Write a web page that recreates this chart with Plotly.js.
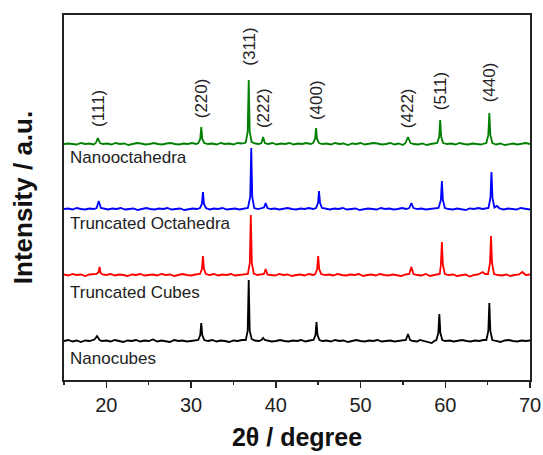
<!DOCTYPE html>
<html>
<head>
<meta charset="utf-8">
<script src="https://cdn.plot.ly/plotly-3.0.1.min.js"></script>
<style>html,body{margin:0;padding:0;background:#fff;}#chart{width:543px;height:455px;}</style>
</head>
<body>
<div id="chart"></div>
<script>
// ---- Data (2θ in degrees, intensity in arbitrary units above each pattern's baseline) ----
const seriesNames = ['Nanocubes', 'Truncated Cubes', 'Truncated Octahedra', 'Nanooctahedra'];
const seriesColors = ['#000000', '#ff0000', '#0000ff', '#008000'];

const nanocubesTheta = [15,15.5,16,16.5,17,17.5,18,18.3,18.6,18.9,19.2,19.5,20,20.5,21,21.5,22,22.5,23,23.5,24,24.5,25,25.5,26,26.5,27,27.5,28,28.5,29,29.5,30,30.5,30.85,31.08,31.2,31.32,31.55,32,32.5,33,33.5,34,34.5,35,35.5,36,36.45,36.68,36.8,36.92,37.15,37.5,38,38.3,38.5,38.7,39,39.5,40,40.5,41,41.5,42,42.5,43,43.5,44,44.45,44.68,44.8,44.92,45.15,45.5,46,46.5,47,47.5,48,48.5,49,49.5,50,50.5,51,51.5,52,52.5,53,53.5,54,54.5,55,55.35,55.6,55.85,56.2,56.7,57,57.5,58,58.4,58.7,58.95,59.18,59.3,59.42,59.65,60,60.5,61,61.5,62,62.5,63,63.5,64,64.5,64.85,65.08,65.2,65.32,65.55,66,66.5,67,67.5,68,68.5,69,69.5,70];
const nanocubesI = [0,1,-0.5,0.5,-1,0.5,0,1,1.5,5,1,0,0.5,-0.5,1,0,-1,0.5,0,1,-0.5,0.5,0,1.5,-0.5,0.5,0,-1,1,0,0.5,-0.5,0,1,1,6,18,6,1,0,1,-0.5,0.5,0,-1,0.5,0,1,1,10,61,10,2,0.5,0,1,3,1,0.5,-0.5,0,1,0,-0.5,0.5,0,1,-0.5,0.5,1,6,19,6,1,0,0.5,-0.5,1,0,0.5,-1,0,1,0,-0.5,0.5,0,1,-0.5,0,0.5,-0.5,0,0.5,1,7,1,0,-0.5,1,0,-1,-2,0,1,8,27,8,1,0,0.5,-0.5,0,1,0,-0.5,0.5,0,1,1,10,38,10,1,0,-1,0.5,1,0,-0.5,0.5,0,0.5];

const truncCubesTheta = [15,15.5,16,16.5,17,17.5,18,18.5,18.85,19.08,19.2,19.32,19.55,20,20.5,21,21.5,22,22.5,23,23.5,24,24.5,25,25.5,26,26.5,27,27.5,28,28.5,29,29.5,30,30.5,31.05,31.28,31.4,31.52,31.75,32.2,32.7,33.2,33.7,34.2,34.7,35.2,35.7,36.2,36.7,36.93,37.05,37.17,37.4,37.8,38.2,38.6,38.8,39,39.4,39.9,40.4,40.9,41.4,41.9,42.4,42.9,43.4,43.9,44.4,44.65,44.88,45,45.12,45.35,45.8,46.3,46.8,47.3,47.8,48.3,48.8,49.3,49.8,50.3,50.8,51.3,51.8,52.3,52.8,53.3,53.8,54.3,54.8,55.3,55.75,56,56.25,56.7,57.2,57.7,58.2,58.7,59.1,59.35,59.48,59.6,59.72,59.95,60.4,60.9,61.4,61.9,62.4,62.9,63.4,63.9,64.4,64.7,65.05,65.28,65.4,65.52,65.75,66.2,66.7,67.2,67.7,68.2,68.7,69.1,69.5,70];
const truncCubesI = [0.5,-0.5,1,0,0.5,-1,0.5,1,1,3,8,2,0.5,0,1,-0.5,0.5,0,-1,0.5,0,1,-0.5,0,0.5,-0.5,1,0,0.5,-1,0,1,0,-0.5,0.5,1,6,19,6,1,0,1,-0.5,0.5,0,1,-0.5,0,1,1,12,60,12,1.5,0,0.5,1,6,0.5,0,-0.5,1,0,0.5,-1,0,0.5,-0.5,1,0,1,6,19,6,1,0,0.5,-0.5,1,0,-0.5,0.5,0,1,-1,0,0.5,-0.5,1,0,-0.5,0.5,0,-1,0.5,1,8,1,0,-0.5,1,-1,0,1,1,10,33,10,1,0,0.5,-1,0,0.5,-1.5,0,0.5,3,1,1,12,39,12,1,0,-0.5,0.5,-1,0,0.5,3,0,0.5];

const truncOctTheta = [15,15.5,16,16.5,17,17.5,18,18.5,18.85,19.1,19.35,19.7,20.2,20.7,21.2,21.7,22.2,22.7,23.2,23.7,24.2,24.7,25.2,25.7,26.2,26.7,27.2,27.7,28.2,28.7,29.2,29.7,30.2,30.7,31.05,31.28,31.4,31.52,31.75,32.2,32.7,33.2,33.7,34.2,34.7,35.2,35.7,36.2,36.7,36.98,37.1,37.22,37.45,37.9,38.3,38.6,38.8,39,39.4,39.9,40.4,40.9,41.4,41.9,42.4,42.9,43.4,43.9,44.4,44.75,44.98,45.1,45.22,45.45,45.9,46.4,46.9,47.4,47.9,48.4,48.9,49.4,49.9,50.4,50.9,51.4,51.9,52.4,52.9,53.4,53.9,54.4,54.9,55.4,55.75,56,56.25,56.7,57.2,57.7,58.2,58.7,59.2,59.48,59.6,59.72,59.95,60.4,60.9,61.4,61.9,62.4,62.9,63.4,63.9,64.4,65.1,65.33,65.45,65.57,65.8,66.1,66.4,66.9,67.4,67.9,68.4,68.9,69.4,70];
const truncOctI = [0,0.5,-0.5,1,0,-0.5,0.5,0,1,8,1,0.5,-0.5,0.5,0,1,-0.5,0,0.5,-1,0,1,0,-0.5,0.5,0,1,-0.5,0,0.5,-1,0,0.5,0,1,5,17,5,1,-0.5,0.5,0,1,-0.5,0,0.5,-0.5,0.5,1,12,61,12,1,0,0.5,1.5,6,1,0,0.5,-0.5,0,1,0,-0.5,0.5,0,1,0,1,6,18,6,1,0,-0.5,0.5,0,1,-0.5,0,0.5,-1,0,0.5,0,-0.5,1,0,0.5,-0.5,0,1,0,1,6,1,0,0.5,-0.5,0,0.5,1,9,28,9,1,0,-0.5,0.5,0,-1,0.5,0,1,0,1,11,37,11,1.5,3,0.5,-0.5,0.5,0,-0.5,1,0,-0.5];

const nanoOctTheta = [15,15.5,16,16.5,17,17.5,18,18.5,18.75,19,19.25,19.6,20.1,20.6,21.1,21.6,22.1,22.6,23.1,23.6,24.1,24.6,25.1,25.6,26.1,26.6,27.1,27.6,28.1,28.6,29.1,29.6,30.1,30.6,30.85,31.08,31.2,31.32,31.55,32,32.5,33,33.5,34,34.5,35,35.5,36,36.45,36.68,36.8,36.92,37.15,37.6,38,38.3,38.5,38.7,39.1,39.6,40.1,40.6,41.1,41.6,42.1,42.6,43.1,43.6,44.1,44.4,44.63,44.75,44.87,45.1,45.5,46,46.5,47,47.5,48,48.5,49,49.5,50,50.5,51,51.5,52,52.5,53,53.5,54,54.5,55,55.3,55.6,55.9,56.3,56.8,57.3,57.8,58.3,58.8,59.05,59.28,59.4,59.52,59.75,60.2,60.7,61.2,61.7,62.2,62.7,63.2,63.7,64.2,64.6,64.85,65.08,65.2,65.32,65.55,66,66.5,67,67.5,68,68.5,69,69.5,70];
const nanoOctI = [0,0.5,0,-0.5,1,0,0.5,-0.5,1,6,1,0,0.5,-0.5,1,0,0.5,-1,0,1,0.5,-0.5,0,1,0,-0.5,0.5,1,0,-0.5,0.5,0,1,0,1,5,17,5,1,0,0.5,-0.5,1,0,0.5,-0.5,1,0.5,1.5,12,64,12,2,0.5,0,1,7,1,0,1,-0.5,0.5,0,1,-0.5,0.5,0,1,0,1,5,16,5,1,0,0.5,-0.5,1,0,0.5,-1,0.5,0,1,-0.5,0,1,0.5,-0.5,0,1,-0.5,0.5,-1,1,7,1,0,-0.5,0.5,-1,0,0.5,1,7,24,7,1,0,0.5,-0.5,1,0,-0.5,0.5,0,-0.5,0.5,1,9,31,9,1,-0.5,0.5,-1,0,0.5,-0.5,0,1,0];

// Reflection labels and the 2θ they sit over
const hklLabels = ['(111)', '(220)', '(311)', '(222)', '(400)', '(422)', '(511)', '(440)'];
const hklTheta  = [19.0, 31.2, 36.8, 38.5, 44.75, 55.5, 59.4, 65.2];

// ---- Presentation (stacking offsets and label placement) ----
const stackOffset = [39, 105, 171, 236];
const hklLabelY = [272, 282, 333, 272, 280, 272, 289, 298];
const nameLabelY = [22, 88, 157, 223];

const thetaSets = [nanocubesTheta, truncCubesTheta, truncOctTheta, nanoOctTheta];
const intensitySets = [nanocubesI, truncCubesI, truncOctI, nanoOctI];

const FONT = 'Liberation Sans, Arial, Helvetica, sans-serif';

const traces = thetaSets.map((xs, i) => ({
  type: 'scatter',
  mode: 'lines',
  x: xs,
  y: intensitySets[i].map(v => v + stackOffset[i]),
  name: seriesNames[i],
  line: {color: seriesColors[i], width: 1.8},
  hoverinfo: 'skip'
}));

const annotations = [];
hklLabels.forEach((t, i) => {
  annotations.push({
    x: hklTheta[i], y: hklLabelY[i], xref: 'x', yref: 'y',
    text: t, showarrow: false, textangle: -90,
    font: {family: FONT, size: 17, color: '#222'},
    xanchor: 'center', yanchor: 'middle'
  });
});
seriesNames.forEach((t, i) => {
  annotations.push({
    x: 15.45, y: nameLabelY[i], xref: 'x', yref: 'y',
    text: t, showarrow: false,
    font: {family: FONT, size: 17, color: '#222'},
    xanchor: 'left', yanchor: 'middle'
  });
});

const layout = {
  width: 543, height: 455,
  margin: {l: 64, r: 13, t: 15, b: 75},
  paper_bgcolor: '#ffffff', plot_bgcolor: '#ffffff',
  showlegend: false,
  font: {family: FONT, color: '#222'},
  xaxis: {
    range: [15, 70],
    tickmode: 'linear', tick0: 0, dtick: 10,
    ticks: 'outside', ticklen: 6, tickwidth: 1.5, tickcolor: '#222',
    minor: {tickmode: 'linear', tick0: 0, dtick: 5, ticks: 'outside', ticklen: 3.5, tickwidth: 1.5, tickcolor: '#222'},
    showline: true, linewidth: 1.8, linecolor: '#222', mirror: true,
    showgrid: false, zeroline: false,
    tickfont: {family: FONT, size: 20, color: '#222'},
    title: {text: '2θ / degree', font: {family: FONT, size: 25, weight: 'bold', color: '#111'}, standoff: 14}
  },
  yaxis: {
    range: [0, 365],
    showline: true, linewidth: 1.8, linecolor: '#222', mirror: true,
    showgrid: false, zeroline: false, showticklabels: false, ticks: '',
    title: {text: 'Intensity / a.u.', font: {family: FONT, size: 26, weight: 'bold', color: '#111'}, standoff: 22}
  },
  annotations: annotations
};

Plotly.newPlot('chart', traces, layout, {displayModeBar: false, staticPlot: true});
</script>
</body>
</html>
